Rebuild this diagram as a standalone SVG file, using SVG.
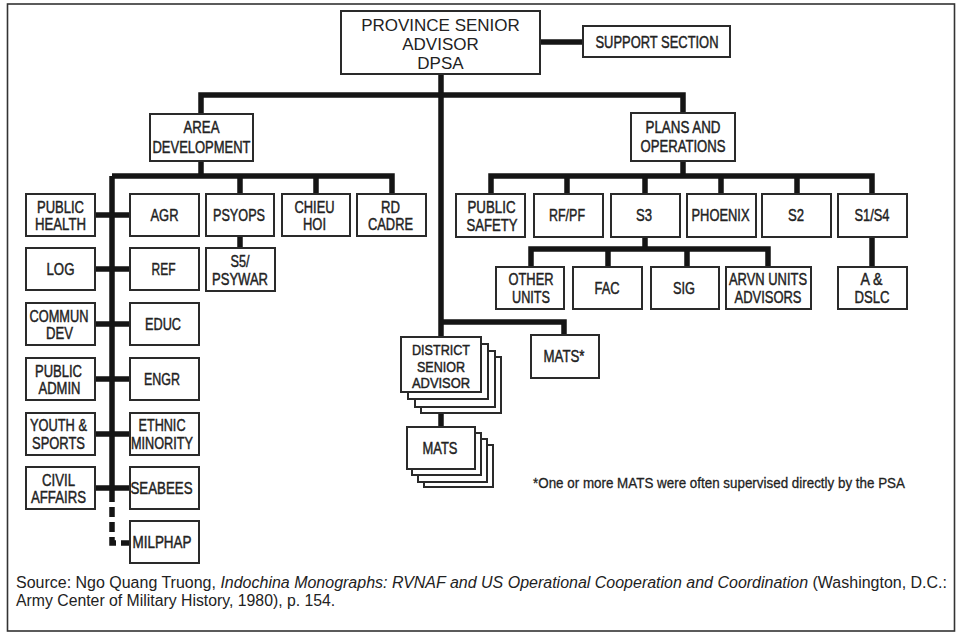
<svg xmlns="http://www.w3.org/2000/svg" width="958" height="633" viewBox="0 0 958 633">
<style>
.bx{fill:#fff;stroke:#2a2a2a;stroke-width:2}
.cn{stroke:#151515;stroke-width:5.5;fill:none;stroke-linecap:butt}
.t{font-family:"Liberation Sans",Arial,sans-serif;font-size:16.5px;fill:#222;text-anchor:middle;stroke:#222;stroke-width:0.45}
.d{font-size:15px}
.tp{font-family:"Liberation Sans",Arial,sans-serif;font-size:17px;fill:#222;text-anchor:middle}
.src{font-family:"Liberation Sans",Arial,sans-serif;font-size:15.8px;fill:#222}
.fn{font-family:"Liberation Sans",Arial,sans-serif;font-size:15px;fill:#222;stroke:#222;stroke-width:0.3}
</style>
<rect x="7.5" y="4" width="947" height="627" fill="#fff" stroke="#333" stroke-width="1.6"/>

<g id="connectors">
<path class="cn" d="M540 42H583"/>
<path class="cn" d="M441 74V337"/>
<path class="cn" d="M201 114V95H683V113"/>
<path class="cn" d="M201 161V176"/>
<path class="cn" d="M112 176H392V194M240 176V194M316 176V194"/>
<path class="cn" d="M112 176V492"/>
<path class="cn" d="M112 492V543H129" stroke-dasharray="10 5"/>
<path class="cn" d="M95 215H130M95 269H130M95 324H130M95 379H130M95 434H130M95 488H130"/>
<path class="cn" d="M240 236V248"/>
<path class="cn" d="M683 161V176"/>
<path class="cn" d="M491 194V176H872V194M567 176V194M645 176V194M721 176V194M797 176V194"/>
<path class="cn" d="M645 237V249"/>
<path class="cn" d="M531 267V249H768V267M608 249V267M687 249V267"/>
<path class="cn" d="M872 237V267"/>
<path class="cn" d="M441 322H564V335"/>
<path class="cn" d="M441 413V427"/>
</g>

<g id="psa"><rect class="bx" x="341" y="11" width="199" height="63"/>
<text class="tp" x="440.5" y="31">PROVINCE SENIOR</text><text class="tp" x="440.5" y="49.5">ADVISOR</text><text class="tp" x="440.5" y="68.5">DPSA</text></g>
<g id="support"><rect class="bx" x="583" y="26" width="147" height="31"/><text class="t" x="657" y="48" textLength="123" lengthAdjust="spacingAndGlyphs">SUPPORT SECTION</text></g>

<g id="area-development"><rect class="bx" x="150" y="114" width="103" height="47"/><text class="t" x="201.5" y="133" textLength="36" lengthAdjust="spacingAndGlyphs">AREA</text><text class="t" x="201.5" y="153" textLength="98" lengthAdjust="spacingAndGlyphs">DEVELOPMENT</text></g>
<g id="plans-operations"><rect class="bx" x="631" y="113" width="104" height="48"/><text class="t" x="683" y="133" textLength="75" lengthAdjust="spacingAndGlyphs">PLANS AND</text><text class="t" x="683" y="152" textLength="85" lengthAdjust="spacingAndGlyphs">OPERATIONS</text></g>

<g id="public-health"><rect class="bx" x="26" y="194" width="69" height="42"/><text class="t" x="60.5" y="213" textLength="47" lengthAdjust="spacingAndGlyphs">PUBLIC</text><text class="t" x="60.5" y="230" textLength="51" lengthAdjust="spacingAndGlyphs">HEALTH</text></g>
<g id="agr"><rect class="bx" x="130" y="194" width="69" height="42"/><text class="t" x="164.5" y="221" textLength="28" lengthAdjust="spacingAndGlyphs">AGR</text></g>
<g id="log"><rect class="bx" x="26" y="248" width="69" height="42"/><text class="t" x="60.5" y="275" textLength="28" lengthAdjust="spacingAndGlyphs">LOG</text></g>
<g id="ref"><rect class="bx" x="130" y="248" width="69" height="42"/><text class="t" x="163.5" y="275" textLength="24" lengthAdjust="spacingAndGlyphs">REF</text></g>
<g id="commun-dev"><rect class="bx" x="26" y="303" width="69" height="42"/><text class="t" x="59" y="322" textLength="59" lengthAdjust="spacingAndGlyphs">COMMUN</text><text class="t" x="59.5" y="339" textLength="27" lengthAdjust="spacingAndGlyphs">DEV</text></g>
<g id="educ"><rect class="bx" x="130" y="303" width="69" height="42"/><text class="t" x="163" y="330" textLength="36" lengthAdjust="spacingAndGlyphs">EDUC</text></g>
<g id="public-admin"><rect class="bx" x="26" y="358" width="69" height="42"/><text class="t" x="58.5" y="377" textLength="47" lengthAdjust="spacingAndGlyphs">PUBLIC</text><text class="t" x="59.5" y="394" textLength="42" lengthAdjust="spacingAndGlyphs">ADMIN</text></g>
<g id="engr"><rect class="bx" x="130" y="358" width="69" height="42"/><text class="t" x="162" y="385" textLength="36" lengthAdjust="spacingAndGlyphs">ENGR</text></g>
<g id="youth-sports"><rect class="bx" x="26" y="413" width="69" height="42"/><text class="t" x="58.5" y="431" textLength="57" lengthAdjust="spacingAndGlyphs">YOUTH &amp;</text><text class="t" x="58.5" y="449" textLength="53" lengthAdjust="spacingAndGlyphs">SPORTS</text></g>
<g id="ethnic-minority"><rect class="bx" x="130" y="413" width="69" height="42"/><text class="t" x="162" y="431" textLength="47" lengthAdjust="spacingAndGlyphs">ETHNIC</text><text class="t" x="162" y="449" textLength="62" lengthAdjust="spacingAndGlyphs">MINORITY</text></g>
<g id="civil-affairs"><rect class="bx" x="26" y="467" width="69" height="42"/><text class="t" x="58.5" y="486" textLength="33" lengthAdjust="spacingAndGlyphs">CIVIL</text><text class="t" x="58.5" y="503" textLength="55" lengthAdjust="spacingAndGlyphs">AFFAIRS</text></g>
<g id="seabees"><rect class="bx" x="130" y="467" width="69" height="42"/><text class="t" x="161.5" y="494" textLength="62" lengthAdjust="spacingAndGlyphs">SEABEES</text></g>
<g id="milphap"><rect class="bx" x="130" y="521" width="69" height="42"/><text class="t" x="162" y="548" textLength="59" lengthAdjust="spacingAndGlyphs">MILPHAP</text></g>

<g id="psyops"><rect class="bx" x="206" y="194" width="68" height="42"/><text class="t" x="239" y="221" textLength="52" lengthAdjust="spacingAndGlyphs">PSYOPS</text></g>
<g id="chieu-hoi"><rect class="bx" x="282" y="194" width="68" height="42"/><text class="t" x="314.5" y="213" textLength="40" lengthAdjust="spacingAndGlyphs">CHIEU</text><text class="t" x="314.5" y="230" textLength="23" lengthAdjust="spacingAndGlyphs">HOI</text></g>
<g id="rd-cadre"><rect class="bx" x="357" y="194" width="69" height="42"/><text class="t" x="390.5" y="213" textLength="19" lengthAdjust="spacingAndGlyphs">RD</text><text class="t" x="390.5" y="230" textLength="45" lengthAdjust="spacingAndGlyphs">CADRE</text></g>
<g id="s5-psywar"><rect class="bx" x="206" y="248" width="69" height="43"/><text class="t" x="240" y="267" textLength="19" lengthAdjust="spacingAndGlyphs">S5/</text><text class="t" x="240" y="285" textLength="56" lengthAdjust="spacingAndGlyphs">PSYWAR</text></g>

<g id="public-safety"><rect class="bx" x="456" y="194" width="69" height="43"/><text class="t" x="491.5" y="213" textLength="48" lengthAdjust="spacingAndGlyphs">PUBLIC</text><text class="t" x="492" y="231" textLength="51" lengthAdjust="spacingAndGlyphs">SAFETY</text></g>
<g id="rf-pf"><rect class="bx" x="534" y="194" width="69" height="43"/><text class="t" x="567" y="221" textLength="36" lengthAdjust="spacingAndGlyphs">RF/PF</text></g>
<g id="s3"><rect class="bx" x="611" y="194" width="69" height="43"/><text class="t" x="644" y="221" textLength="16" lengthAdjust="spacingAndGlyphs">S3</text></g>
<g id="phoenix"><rect class="bx" x="687" y="194" width="69" height="43"/><text class="t" x="720.5" y="221" textLength="58" lengthAdjust="spacingAndGlyphs">PHOENIX</text></g>
<g id="s2"><rect class="bx" x="762" y="194" width="69" height="43"/><text class="t" x="796" y="221" textLength="16" lengthAdjust="spacingAndGlyphs">S2</text></g>
<g id="s1-s4"><rect class="bx" x="838" y="194" width="69" height="43"/><text class="t" x="872" y="221" textLength="35" lengthAdjust="spacingAndGlyphs">S1/S4</text></g>

<g id="other-units"><rect class="bx" x="496" y="267" width="68" height="42"/><text class="t" x="531" y="285" textLength="45" lengthAdjust="spacingAndGlyphs">OTHER</text><text class="t" x="531" y="303" textLength="38" lengthAdjust="spacingAndGlyphs">UNITS</text></g>
<g id="fac"><rect class="bx" x="573" y="267" width="69" height="42"/><text class="t" x="607" y="294" textLength="25" lengthAdjust="spacingAndGlyphs">FAC</text></g>
<g id="sig"><rect class="bx" x="651" y="267" width="68" height="42"/><text class="t" x="684" y="294" textLength="22" lengthAdjust="spacingAndGlyphs">SIG</text></g>
<g id="arvn-units-advisors"><rect class="bx" x="726" y="267" width="85" height="42"/><text class="t" x="768" y="285" textLength="78" lengthAdjust="spacingAndGlyphs">ARVN UNITS</text><text class="t" x="768" y="303" textLength="67" lengthAdjust="spacingAndGlyphs">ADVISORS</text></g>
<g id="a-dslc"><rect class="bx" x="838" y="267" width="69" height="42"/><text class="t" x="871.5" y="285" textLength="22" lengthAdjust="spacingAndGlyphs">A &amp;</text><text class="t" x="872" y="303" textLength="35" lengthAdjust="spacingAndGlyphs">DSLC</text></g>

<g id="district-senior-advisor">
<rect class="bx" x="421" y="357" width="80" height="56"/>
<rect class="bx" x="415" y="351" width="80" height="56"/>
<rect class="bx" x="408" y="344" width="80" height="55"/>
<rect class="bx" x="401" y="337" width="80" height="55"/>
<text class="t d" x="441" y="355" textLength="58" lengthAdjust="spacingAndGlyphs">DISTRICT</text><text class="t d" x="441" y="371.5" textLength="48" lengthAdjust="spacingAndGlyphs">SENIOR</text><text class="t d" x="441" y="388" textLength="58" lengthAdjust="spacingAndGlyphs">ADVISOR</text></g>
<g id="mats-stack">
<rect class="bx" x="424" y="445" width="69" height="42"/>
<rect class="bx" x="418" y="439" width="69" height="43"/>
<rect class="bx" x="412" y="433" width="69" height="42"/>
<rect class="bx" x="407" y="427" width="68" height="42"/>
<text class="t" x="440" y="454" textLength="35" lengthAdjust="spacingAndGlyphs">MATS</text></g>
<g id="mats-psa"><rect class="bx" x="531" y="335" width="68" height="43"/><text class="t" x="564" y="362" textLength="41" lengthAdjust="spacingAndGlyphs">MATS*</text></g>

<text class="fn" x="533" y="488" textLength="372" lengthAdjust="spacingAndGlyphs">*One or more MATS were often supervised directly by the PSA</text>
<text class="src" x="16" y="588" textLength="931" lengthAdjust="spacingAndGlyphs">Source: Ngo Quang Truong, <tspan font-style="italic">Indochina Monographs: RVNAF and US Operational Cooperation and Coordination</tspan> (Washington, D.C.:</text>
<text class="src" x="16" y="606">Army Center of Military History, 1980), p. 154.</text>
</svg>
